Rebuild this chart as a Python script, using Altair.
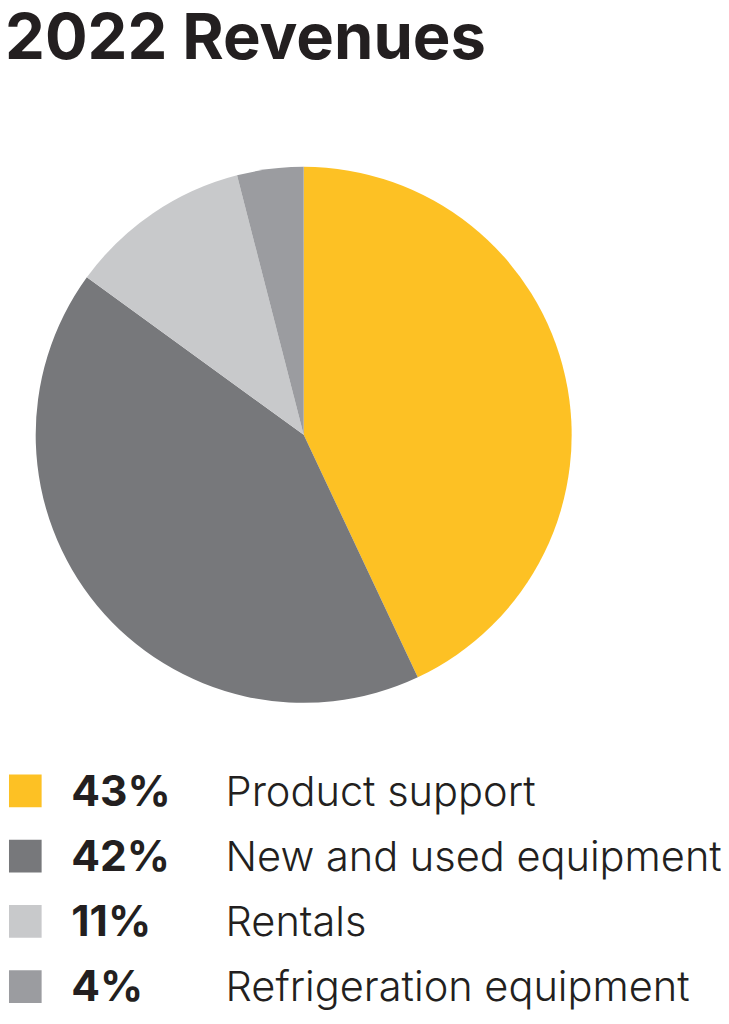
import altair as alt
import pandas as pd

title_text = ["2022 Revenues"]
categories = ["Product support", "New and used equipment", "Rentals", "Refrigeration equipment"]
shares = [43, 42, 11, 4]
pct_labels = ["43%", "42%", "11%", "4%"]
colors = ["#FDC124", "#77787B", "#C8C9CB", "#9B9CA0"]

df = pd.DataFrame({
    "category": categories,
    "share": shares,
    "pct": pct_labels,
    "order": list(range(len(categories))),
})
title_df = pd.DataFrame({"t": title_text})

color_scale = alt.Scale(domain=categories, range=colors)

title = alt.Chart(title_df).mark_text(
    align="left", baseline="alphabetic", font="Inter", fontSize=64,
    fontWeight="bold", color="#231F20",
).encode(x=alt.value(-3), y=alt.value(46), text="t:N")

pie = alt.Chart(df).mark_arc(outerRadius=271).encode(
    x=alt.value(299), y=alt.value(426),
    theta=alt.Theta("share:Q", stack=True),
    order=alt.Order("order:Q"),
    color=alt.Color("category:N", scale=color_scale, legend=None),
)

ybase = alt.Chart(df).encode(
    y=alt.Y("category:N", sort=categories, axis=None,
            scale=alt.Scale(type="point", range=[786, 984], padding=0)),
)

squares = ybase.mark_square(size=1089, opacity=1).encode(
    x=alt.value(17.5),
    color=alt.Color("category:N", scale=color_scale, legend=None),
)
pcts = ybase.mark_text(align="left", baseline="middle", font="Inter",
                       fontSize=43, fontWeight="bold", color="#231F20",
                       dy=2).encode(
    x=alt.value(64), text="pct:N")
names = ybase.mark_text(align="left", baseline="middle", font="Inter",
                        fontSize=42, fontWeight=300, color="#231F20",
                        dy=2).encode(
    x=alt.value(220), text="category:N")

chart = alt.layer(title, pie, squares, pcts, names).properties(
    width=721, height=1006,
    autosize=alt.AutoSizeParams(type="none"),
    padding=0,
).configure_view(stroke=None)

chart.save("out.html", embed_options={"renderer": "svg", "actions": False})
